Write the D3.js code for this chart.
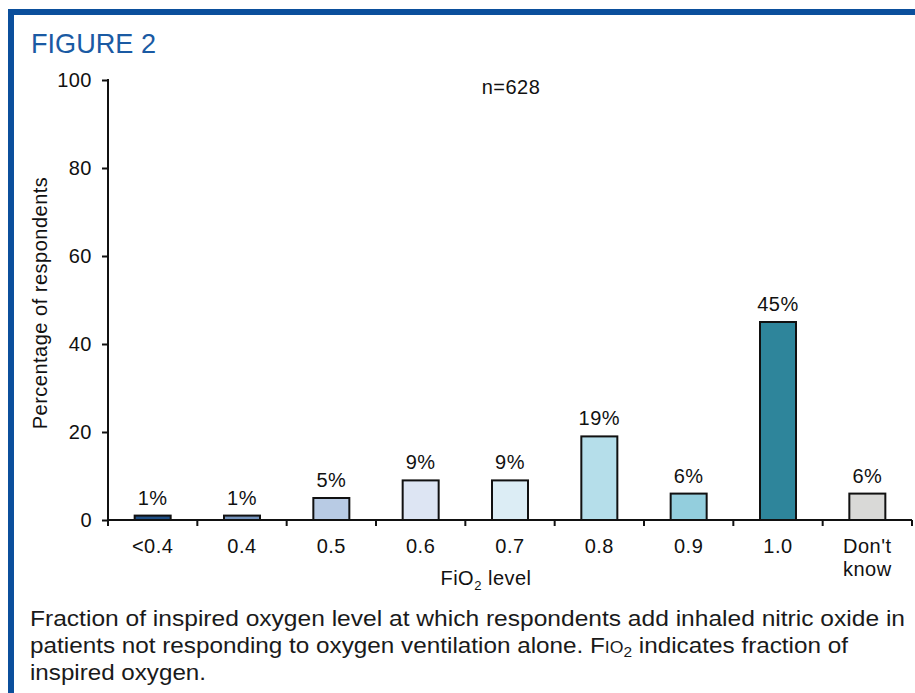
<!DOCTYPE html>
<html>
<head>
<meta charset="utf-8">
<script src="https://cdn.jsdelivr.net/npm/d3@7/dist/d3.min.js"></script>
<style>
  html, body { margin: 0; padding: 0; background: #fff; }
  svg { display: block; }
  text { font-family: "Liberation Sans", Arial, Helvetica, sans-serif; fill: #111; }
</style>
</head>
<body>
<script>
const categories = ["<0.4", "0.4", "0.5", "0.6", "0.7", "0.8", "0.9", "1.0", "Don't know"];
const values = [1, 1, 5, 9, 9, 19, 6, 45, 6];
const barColors = ["#1f4f86", "#7594bd", "#b8cbe4", "#dde5f3", "#dcedf5", "#b5deea", "#93cedd", "#2e859b", "#d9d9d7"];
const yTicks = [0, 20, 40, 60, 80, 100];

const W = 915, H = 693;
const FS = 20, LS = 0.5;
const svg = d3.select("body").append("svg").attr("width", W).attr("height", H);

// frame
svg.append("rect").attr("x", 8).attr("y", 9).attr("width", W - 8).attr("height", 6).attr("fill", "#0b4f9c");
svg.append("rect").attr("x", 8).attr("y", 9).attr("width", 6).attr("height", H - 9).attr("fill", "#0b4f9c");

svg.append("text").attr("x", 31).attr("y", 53)
  .attr("font-size", 28).attr("textLength", 125).attr("lengthAdjust", "spacingAndGlyphs")
  .style("fill", "#1a5aa3").text("FIGURE 2");

const x0 = 108, x1 = 912, yBase = 520, yTop = 80;
const xb = d3.scaleBand().domain(categories).range([x0, x1]);
const y = d3.scaleLinear().domain([0, 100]).range([yBase, yTop]);

// bars
svg.append("g").selectAll("rect").data(categories).join("rect")
  .attr("x", d => xb(d) + xb.bandwidth() / 2 - 18)
  .attr("width", 36)
  .attr("y", (d, i) => y(values[i]))
  .attr("height", (d, i) => yBase - y(values[i]))
  .attr("fill", (d, i) => barColors[i])
  .attr("stroke", "#111").attr("stroke-width", 2);

// value labels
svg.append("g").selectAll("text").data(categories).join("text")
  .attr("x", d => xb(d) + xb.bandwidth() / 2)
  .attr("y", (d, i) => y(values[i]) - 11)
  .attr("text-anchor", "middle").attr("font-size", FS).attr("letter-spacing", LS)
  .text((d, i) => values[i] + "%");

// y axis
const yAxis = svg.append("g").attr("transform", `translate(${x0},0)`)
  .call(d3.axisLeft(y).tickValues(yTicks).tickSize(6).tickSizeOuter(0).tickPadding(10));
yAxis.select(".domain").attr("stroke", "#111").attr("stroke-width", 2)
  .attr("d", `M0,${yTop - 1}V${yBase + 1}`);
yAxis.selectAll(".tick line").attr("stroke", "#111").attr("stroke-width", 2);
yAxis.selectAll(".tick text").attr("font-size", FS).attr("letter-spacing", LS)
  .attr("font-family", "Liberation Sans, Arial, sans-serif").style("fill", "#111");

// x axis
const xAxisG = svg.append("g").attr("transform", `translate(0,${yBase})`);
xAxisG.append("line").attr("x1", x0 - 1).attr("x2", x1).attr("y1", 0).attr("y2", 0)
  .attr("stroke", "#111").attr("stroke-width", 2);
const boundaries = categories.map(d => xb(d)).concat([x1]);
xAxisG.selectAll("line.tk").data(boundaries).join("line").attr("class", "tk")
  .attr("x1", d => d).attr("x2", d => d).attr("y1", 0).attr("y2", 6)
  .attr("stroke", "#111").attr("stroke-width", 2);
xAxisG.selectAll("text.cat").data(categories).join("text").attr("class", "cat")
  .attr("text-anchor", "middle").attr("font-size", FS).attr("letter-spacing", LS)
  .each(function (d) {
    const t = d3.select(this);
    const parts = d === "Don't know" ? ["Don't", "know"] : [d];
    parts.forEach((p, i) => t.append("tspan").attr("x", xb(d) + xb.bandwidth() / 2).attr("y", 33 + i * 23).text(p));
  });

// x title
const xt = svg.append("text").attr("x", 486).attr("y", 585).attr("text-anchor", "middle")
  .attr("font-size", FS).attr("letter-spacing", LS);
xt.append("tspan").text("FiO");
xt.append("tspan").attr("font-size", 13).attr("dy", 5).text("2");
xt.append("tspan").attr("dy", -5).text(" level");

// y title
svg.append("text").attr("transform", `translate(47,${(yTop + yBase) / 2 + 3}) rotate(-90)`)
  .attr("text-anchor", "middle").attr("font-size", FS).attr("letter-spacing", LS)
  .text("Percentage of respondents");

// n
svg.append("text").attr("x", 511).attr("y", 94).attr("text-anchor", "middle")
  .attr("font-size", FS).attr("letter-spacing", LS).text("n=628");

// caption
const cap = svg.append("g").attr("font-size", 22);
cap.append("text").attr("x", 30).attr("y", 626).attr("textLength", 875).attr("lengthAdjust", "spacingAndGlyphs")
  .text("Fraction of inspired oxygen level at which respondents add inhaled nitric oxide in");
const l2 = cap.append("text").attr("x", 30).attr("y", 653).attr("textLength", 818).attr("lengthAdjust", "spacingAndGlyphs");
l2.append("tspan").text("patients not responding to oxygen ventilation alone. F");
l2.append("tspan").attr("font-size", 16).text("IO");
l2.append("tspan").attr("font-size", 14).attr("dy", 4).text("2");
l2.append("tspan").attr("dy", -4).text(" indicates fraction of");
cap.append("text").attr("x", 30).attr("y", 680).attr("textLength", 176).attr("lengthAdjust", "spacingAndGlyphs")
  .text("inspired oxygen.");
cap.selectAll("text").style("font-family", "'Liberation Sans Narrow', 'Arial Narrow', sans-serif").style("fill", "#1a1a1a");
</script>
</body>
</html>
